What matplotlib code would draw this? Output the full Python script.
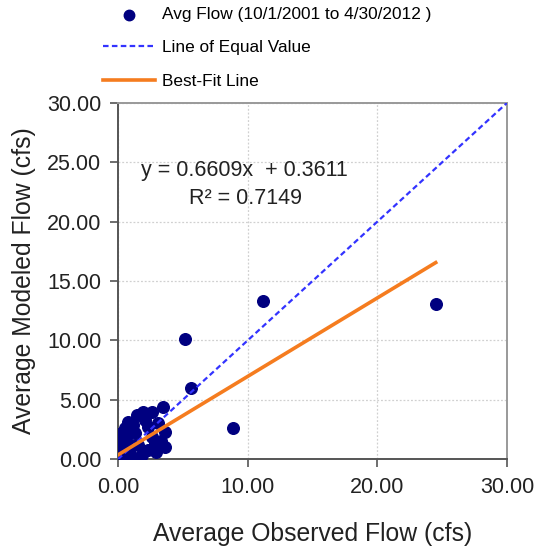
import numpy as np
import matplotlib.pyplot as plt

plt.rcParams['font.family'] = ['Liberation Sans', 'DejaVu Sans']

# Average observed vs modeled flow (cfs)
observed = [24.5, 11.2, 5.2, 5.6, 8.9,
            3.47, 2.63, 1.93, 1.47, 0.77, 0.54, 2.08, 2.32, 3.09, 3.63,
            3.63, 2.86, 2.32, 1.31, 0.54, 0.15, 0.0, 0.77, 1.54, 1.85,
            0.31, 1.08, 0.2, 0.5, 0.3, 1.0, 0.9, 2.6, 1.2, 0.1, 0.6,
            2.9, 3.3, 0.4, 1.6]
modeled = [13.1, 13.3, 10.1, 6.0, 2.6,
           4.36, 3.94, 3.94, 3.69, 3.10, 2.60, 3.27, 2.68, 3.02, 2.26,
           1.01, 1.34, 0.75, 2.18, 1.76, 1.01, 0.50, 0.59, 1.17, 0.34,
           0.17, 0.17, 0.3, 0.8, 1.4, 1.2, 0.4, 1.9, 2.9, 2.1, 2.2,
           0.6, 1.5, 0.1, 0.1]

slope = 0.6609
intercept = 0.3611
r2 = 0.7149

fig = plt.figure(figsize=(5.36, 5.5), dpi=100)
ax = fig.add_axes([0.220, 0.165, 0.726, 0.648])

pts = ax.scatter(observed, modeled, s=70, color='#000080', zorder=3,
                 label='Avg Flow (10/1/2001 to 4/30/2012 )')
eq, = ax.plot([0, 30], [0, 30], color='#3333ff', lw=1.6, ls=(0, (2.5, 1.5)),
              label='Line of Equal Value', zorder=4)
xs = np.array([0, max(observed)])
fit, = ax.plot(xs, slope * xs + intercept, color='#f57c1f', lw=2.6,
               label='Best-Fit Line', zorder=5)

ax.set_xlim(0, 30)
ax.set_ylim(0, 30)
ax.set_xticks([0, 10, 20, 30])
ax.set_yticks([0, 5, 10, 15, 20, 25, 30])
ax.set_xticklabels([f'{v:.2f}' for v in [0, 10, 20, 30]])
ax.set_yticklabels([f'{v:.2f}' for v in [0, 5, 10, 15, 20, 25, 30]])
ax.grid(True, color='#d0d0d0', ls=(0, (1.5, 1.5)), lw=0.9)
ax.set_axisbelow(True)

for side in ['left', 'bottom']:
    ax.spines[side].set_color('#555555')
    ax.spines[side].set_linewidth(1.4)
for side in ['right', 'top']:
    ax.spines[side].set_color('#999999')
    ax.spines[side].set_linewidth(1.4)

ax.tick_params(axis='both', direction='out', length=6, width=1.2, color='#555555',
               labelsize=15.5, labelcolor='#222222')
ax.tick_params(axis='y', pad=6)
ax.tick_params(axis='x', pad=7)

ax.set_xlabel('Average Observed Flow (cfs)', fontsize=17.8, color='#222222', labelpad=17)
ax.set_ylabel('Average Modeled Flow (cfs)', fontsize=17.8, color='#222222', labelpad=8)

ax.text(0.324, 0.809, f'y = {slope}x  + {intercept}', transform=ax.transAxes,
        ha='center', va='center', fontsize=15.5, color='#222222')
ax.text(0.329, 0.733, f'R² = {r2}', transform=ax.transAxes,
        ha='center', va='center', fontsize=15.5, color='#222222')

fig.legend(handles=[pts, eq, fit], loc='upper left',
           bbox_to_anchor=(103 / 536, 1 - 7 / 550), frameon=False,
           fontsize=12.4, handlelength=3.0, handletextpad=0.4,
           labelspacing=1.06, borderpad=0, borderaxespad=0,
           scatterpoints=1, markerscale=0.9)

fig.savefig('out.png', dpi=100)
